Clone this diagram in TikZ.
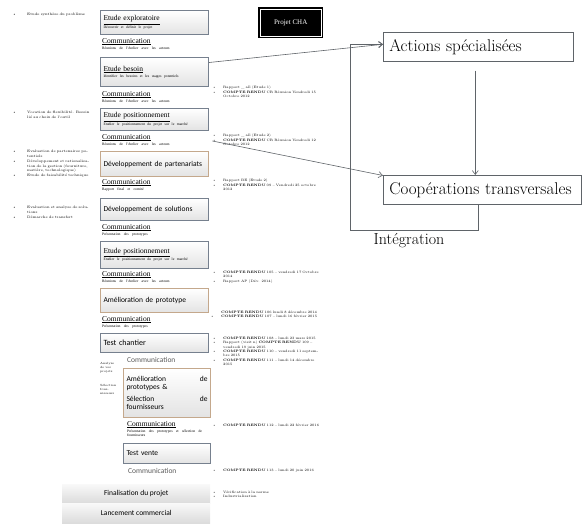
\documentclass[tikz,border=0pt]{standalone}
\usepackage{fontspec}
\newfontfamily\tms{Liberation Serif}
\newfontfamily\carl{Carlito}
\usetikzlibrary{arrows.meta}
\definecolor{slate}{RGB}{118,128,142}
\definecolor{tanb}{RGB}{196,168,140}
\definecolor{lnk}{RGB}{95,100,105}
\newcommand\nb{\leavevmode\llap{\textbullet\hspace{7pt}}}
\newcommand\nbl{\leavevmode\llap{\textbullet\hspace{11pt}}}
\newcommand\ttl[2]{\raggedright{\tms\fontsize{7.5}{8.5}\selectfont\underline{#1}\par}\vspace{0.3pt}{\tms\fontsize{3.7}{4.3}\selectfont #2\par}}
\begin{document}
\begin{tikzpicture}[x=1pt,y=-1pt,
  phase/.style={draw=slate, line width=1pt, top color=white, bottom color=gray!22, anchor=north west, inner xsep=3pt, inner ysep=1pt, align=left, text width=#1, font=\carl\fontsize{7.5}{8.5}\selectfont},
  tanbox/.style={phase=#1, draw=tanb},
  comm/.style={anchor=north west, inner sep=0pt, align=left, text width=100pt},
  commplain/.style={anchor=north west, inner sep=0pt, font=\carl\fontsize{7.5}{8}\selectfont, text=gray!70!black},
  bar/.style={anchor=north west, top color=gray!5, bottom color=gray!28, minimum width=148pt, font=\carl\fontsize{7.5}{8}\selectfont},
  note/.style={anchor=north west, inner sep=0pt, text width=98pt, font=\fontsize{3.4}{4.3}\selectfont},
  lnote/.style={anchor=north west, inner sep=0pt, text width=66pt, font=\fontsize{3.5}{4.8}\selectfont},
  tiny/.style={anchor=north west, inner sep=0pt, text width=17pt, font=\fontsize{3}{4}\selectfont},
  bigbox/.style={draw=lnk, line width=0.6pt, fill=white, anchor=north west, inner xsep=6pt, align=left, font=\fontsize{17}{19}\selectfont},
  conn/.style={draw=lnk, line width=0.6pt, -{Straight Barb[length=4pt,width=6pt]}},
  loopln/.style={draw=lnk, line width=0.6pt}
]
\useasboundingbox (0,0) rectangle (582,525);

% ---------- main column ----------
\node[phase=102pt, minimum height=24pt] (n1) at (100,10) {\ttl{Etude exploratoire}{Découvrir et définir le projet}};
\node[comm] (c1) at (102,38) {\ttl{Communication}{Réunions de l'Atelier avec les acteurs}};
\node[phase=102pt, minimum height=29pt] (n2) at (100,57) {\ttl{Etude besoin}{Identifier les besoins et les usages potentiels}};
\node[comm] (c2) at (102,91) {\ttl{Communication}{Réunions de l'Atelier avec les acteurs}};
\node[phase=102pt, minimum height=22pt] (n3) at (100,108) {\ttl{Etude positionnement}{Etudier le positionnement du projet sur le marché}};
\node[comm] (c3) at (102,134) {\ttl{Communication}{Réunions de l'Atelier avec les acteurs}};
\node[tanbox=102pt, minimum height=25pt] (n4) at (100,151) {Développement de partenariats};
\node[comm] (c4) at (102,179) {\ttl{Communication}{Rapport final et comité}};
\node[phase=102pt, minimum height=22pt] (n5) at (100,198) {Développement de solutions};
\node[comm] (c5) at (102,224) {\ttl{Communication}{Présentation des prototypes}};
\node[phase=102pt, minimum height=27pt] (n6) at (100,241) {\ttl{Etude positionnement}{Etudier le positionnement du projet sur le marché}};
\node[comm] (c6) at (102,271) {\ttl{Communication}{Réunions de l'Atelier avec les acteurs}};
\node[tanbox=102pt, minimum height=24pt] (n7) at (100,288) {Amélioration de prototype};
\node[comm] (c7) at (102,316) {\ttl{Communication}{Présentation des prototypes}};
\node[phase=102pt, minimum height=19pt, font=\carl\fontsize{8}{9}\selectfont] (n8) at (100,333) {Test chantier};
\node[commplain] (c8) at (127,357) {Communication};
\node[tiny] (t1) at (100,362) {Analyse de vos projets};
\node[tiny] (t2) at (100,384) {Sélection fournisseurs};
\node[tanbox=81pt, minimum height=49pt] (n9) at (123,368) {Amélioration \hfill de\\ prototypes \&\\[3pt] Sélection \hfill de\\ fournisseurs};
\node[comm, text width=80pt] (c9) at (127,421) {\ttl{Communication}{Présentation des prototypes et sélection de fournisseurs}};
\node[phase=81pt, minimum height=20pt] (n10) at (123,443) {Test vente};
\node[commplain] (c10) at (128,468) {Communication};
\node[bar, minimum height=19pt] (n11) at (62,484) {Finalisation du projet};
\node[bar, minimum height=20pt] (n12) at (62,503) {Lancement commercial};

% ---------- notes right of column ----------
\node[note] (r1) at (223,86) {\nb Rapport \_ all (Etude 1)\par\nb \textbf{COMPTE RENDU} CR Réunion Vendredi 15 Octobre 2012};
\node[note] (r2) at (223,134) {\nb Rapport \_ all (Etude 2)\par\nb \textbf{COMPTE RENDU} CR Réunion Vendredi 12 Octobre 2012};
\node[note] (r3) at (223,179) {\nb Rapport BE (Etude 2)\par\nb \textbf{COMPTE RENDU} 09 -- Vendredi 25 octobre 2012};
\node[note] (r4) at (223,271) {\nb \textbf{COMPTE RENDU} 105 -- vendredi 17 Octobre 2014\par\nb Rapport AP (Dév. 2014)};
\node[note] (r5) at (221,311) {\textbf{COMPTE RENDU} 106 lundi 8 décembre 2014\par\nb \textbf{COMPTE RENDU} 107 -- lundi 16 février 2015};
\node[note] (r6) at (223,337) {\nb \textbf{COMPTE RENDU} 108 -- lundi 23 mars 2015\par\nb Rapport (visit n) \textbf{COMPTE RENDU} 109 -- vendredi 19 juin 2015\par\nb \textbf{COMPTE RENDU} 110 -- vendredi 11 septembre 2015\par\nb \textbf{COMPTE RENDU} 111 -- lundi 14 décembre 2015};
\node[note] (r7) at (223,424) {\nb \textbf{COMPTE RENDU} 112 -- lundi 22 février 2016};
\node[note] (r8) at (223,469) {\nb \textbf{COMPTE RENDU} 113 -- lundi 20 juin 2016};
\node[note] (r9) at (223,491) {\nb Vérification à la norme\par\nb Industrialisation};

% ---------- notes left of column ----------
\node[lnote] (l1) at (27,13) {\nbl Etude synthèse du problème};
\node[lnote] (l2) at (27,111) {\nbl Vocation de flexibilité. Besoin lié au choix de l'outil};
\node[lnote] (l3) at (27,150) {\nbl Evaluation de partenaires potentiels\par\nbl Développement et rationalisation de la gestion (fourniture, matière, technologique)\par\nbl Etude de faisabilité technique};
\node[lnote] (l4) at (27,206) {\nbl Evaluation et analyse de solutions\par\nbl Démarche de transfert};

% ---------- right part ----------
\node[fill=black, anchor=north west, minimum width=65pt, minimum height=31pt, text=white, font=\tms\fontsize{7}{8}\selectfont] (pc) at (258,7) {Projet CHA};
\draw[white, line width=0.6pt] ([shift={(2.5pt,-2.5pt)}]pc.north west) rectangle ([shift={(-2.5pt,2.5pt)}]pc.south east);

\node[bigbox, text width=178pt, minimum height=29pt] (as) at (383,32) {Actions spécialisées};
\node[bigbox, text width=186pt, minimum height=29pt] (ct) at (383,175) {Coopérations transversales};
\node[font=\fontsize{16}{18}\selectfont] (ig) at (409,241) {Intégration};

\coordinate (lb) at (350,230);
\draw[conn] ([yshift=9.5pt]n2.east) -- ([yshift=2.5pt]as.west);
\draw[conn] ([xshift=10pt,yshift=-7pt]c3.north east) -- ([yshift=-0.5pt]ct.north west);
\draw[conn] ([xshift=-3pt,yshift=-9pt]as.south) -- ([xshift=-3pt]as.south |- ct.north);
\draw[loopln] ([xshift=-4pt]ct.south) |- (lb);
\draw[conn] (lb) |- ([yshift=2.5pt]as.west);
\end{tikzpicture}
\end{document}
